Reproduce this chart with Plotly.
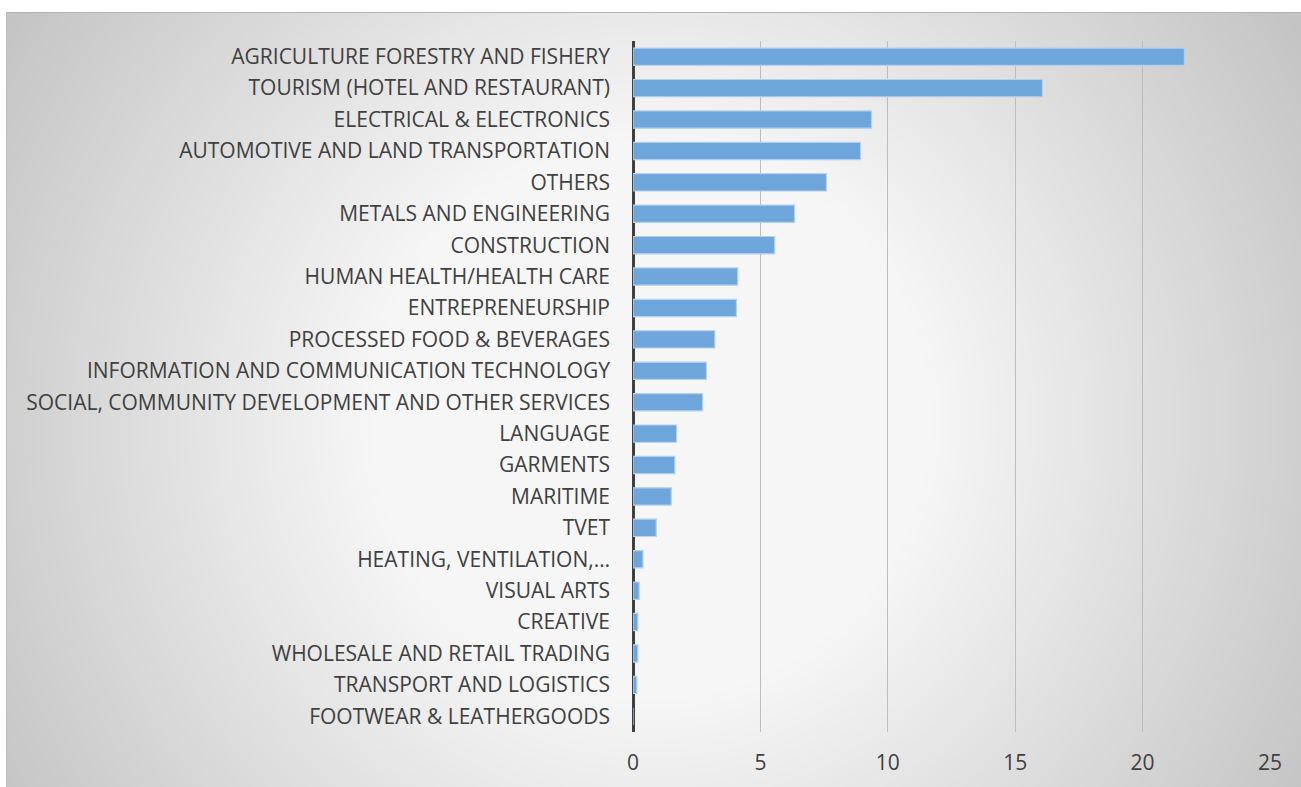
import base64
import struct
import zlib

import numpy as np
import plotly.graph_objects as go

# Share of programmes by sector (percent)
sectors = [
    "AGRICULTURE FORESTRY AND FISHERY",
    "TOURISM (HOTEL AND RESTAURANT)",
    "ELECTRICAL & ELECTRONICS",
    "AUTOMOTIVE AND LAND TRANSPORTATION",
    "OTHERS",
    "METALS AND ENGINEERING",
    "CONSTRUCTION",
    "HUMAN HEALTH/HEALTH CARE",
    "ENTREPRENEURSHIP",
    "PROCESSED FOOD & BEVERAGES",
    "INFORMATION AND COMMUNICATION TECHNOLOGY",
    "SOCIAL, COMMUNITY DEVELOPMENT AND OTHER SERVICES",
    "LANGUAGE",
    "GARMENTS",
    "MARITIME",
    "TVET",
    "HEATING, VENTILATION,…",
    "VISUAL ARTS",
    "CREATIVE",
    "WHOLESALE AND RETAIL TRADING",
    "TRANSPORT AND LOGISTICS",
    "FOOTWEAR & LEATHERGOODS",
]
shares = [21.64, 16.07, 9.36, 8.93, 7.59, 6.34, 5.56, 4.11, 4.06, 3.21, 2.88,
          2.73, 1.71, 1.64, 1.50, 0.91, 0.39, 0.24, 0.19, 0.19, 0.15, 0.0]
x_ticks = [0, 5, 10, 15, 20, 25]

W, H = 1301, 787
L, R, T, B = 633, 31, 41, 55


def png_data_uri(rgb):
    """Encode an HxWx3 uint8 array as a PNG data URI."""
    h, w, _ = rgb.shape
    raw = b"".join(b"\x00" + rgb[i].tobytes() for i in range(h))

    def chunk(tag, data):
        c = struct.pack(">I", len(data)) + tag + data
        return c + struct.pack(">I", zlib.crc32(tag + data) & 0xFFFFFFFF)

    png = (b"\x89PNG\r\n\x1a\n"
           + chunk(b"IHDR", struct.pack(">IIBBBBB", w, h, 8, 2, 0, 0, 0))
           + chunk(b"IDAT", zlib.compress(raw, 9))
           + chunk(b"IEND", b""))
    return "data:image/png;base64," + base64.b64encode(png).decode()


# Radial grey-to-white backdrop for the chart frame
yy, xx = np.mgrid[0:H, 0:W].astype(float)
cx, cy = 650.0, 420.0
d = np.hypot(xx - cx, yy - cy)
t = np.clip((d - 280.0) / 500.0, 0, 1)
val = 246.0 - 52.0 * t
img = np.repeat(val[:, :, None], 3, axis=2)
fx0, fy0 = 6, 12
img[:fy0, :, :] = 255
img[:, :fx0, :] = 255
img[fy0, fx0:, :] = 180
img[fy0:, fx0, :] = 190
img = np.clip(img, 0, 255).astype(np.uint8)
bg_uri = png_data_uri(img)

pw, ph = W - L - R, H - T - B

fig = go.Figure(
    go.Bar(
        x=shares,
        y=sectors,
        orientation="h",
        marker=dict(color="#6ea5da", line=dict(color="#b3d0ee", width=1.2)),
        hoverinfo="x+y",
    )
)

fig.add_layout_image(
    source=bg_uri,
    xref="paper", yref="paper",
    x=-L / pw, y=1 + T / ph,
    sizex=W / pw, sizey=H / ph,
    sizing="stretch", xanchor="left", yanchor="top",
    layer="below",
)

font_family = "Open Sans, sans-serif"
tick_font = dict(family=font_family, size=21, color="#404040")

fig.update_layout(
    width=W, height=H,
    margin=dict(l=L, r=R, t=T, b=B, autoexpand=False),
    paper_bgcolor="rgba(0,0,0,0)",
    plot_bgcolor="rgba(0,0,0,0)",
    bargap=0.45,
    showlegend=False,
    font=dict(family=font_family, size=20, color="#404040"),
)
fig.update_xaxes(
    range=[0, 25],
    tickvals=x_ticks,
    showgrid=True, gridcolor="#bdbdbd", gridwidth=1,
    zeroline=True, zerolinecolor="#404040", zerolinewidth=3,
    showline=False,
    ticks="",
    ticklabelstandoff=16,
    tickfont=tick_font,
    fixedrange=True,
)
fig.update_yaxes(
    autorange="reversed",
    showgrid=False,
    showline=False,
    ticks="",
    ticklabelstandoff=22,
    tickfont=tick_font,
    fixedrange=True,
)

fig.write_html("out.html")
